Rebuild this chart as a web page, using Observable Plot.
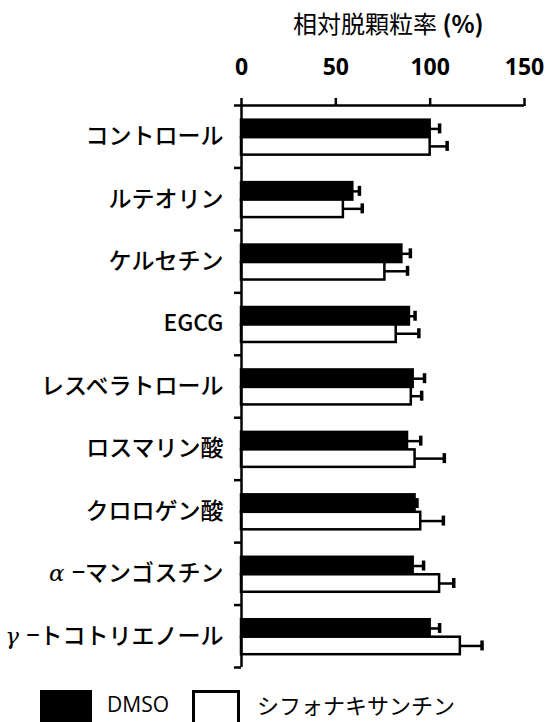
<!DOCTYPE html>
<html><head><meta charset="utf-8">
<script src="https://cdn.jsdelivr.net/npm/d3@7"></script>
<script src="https://cdn.jsdelivr.net/npm/@observablehq/plot@0.6"></script>
<style>
body{margin:0;background:#fff;font-family:"Noto Sans CJK JP",sans-serif;}
#wrap{position:relative;width:548px;height:722px;overflow:hidden;background:#fff;}
#title{position:absolute;left:293px;top:9px;font-size:24px;line-height:28px;white-space:nowrap;color:#000;}
#chart{position:absolute;left:0;top:44px;}
.sw{position:absolute;top:690px;height:40px;box-sizing:border-box;}
.lt{position:absolute;top:690px;font-size:22px;line-height:28px;white-space:nowrap;color:#000;}
</style></head>
<body><div id="wrap">
<div id="title">相対脱顆粒率 <b>(%)</b></div>
<div id="chart"></div>
<div class="sw" style="left:40px;width:52px;background:#000;"></div>
<div class="lt" style="left:107px;font-family:'Open Sans',sans-serif;font-size:21px;">DMSO</div>
<div class="sw" style="left:192px;width:48px;background:#fff;border:3px solid #000;"></div>
<div class="lt" style="left:257px;">シフォナキサンチン</div>
</div>
<script>
const categories = ["コントロール","ルテオリン","ケルセチン","EGCG","レスベラトロール","ロスマリン酸","クロロゲン酸","α−マンゴスチン","γ−トコトリエノール"];
const seriesNames = ["DMSO","シフォナキサンチン"];
const dmso    = [100, 59, 85, 89, 91, 88, 92, 91, 100];
const dmsoErr = [5, 3.5, 4.5, 3, 6, 7, 1, 5.5, 5];
const siph    = [100, 54, 76, 82, 90, 92, 95, 105, 116];
const siphErr = [9, 10, 12, 12, 5.5, 15.5, 12, 7.5, 11.5];
const xTicks = [0, 50, 100, 150];

const rows = [];
categories.forEach((c, i) => {
  rows.push({cat: c, series: seriesNames[0], value: dmso[i], hi: dmso[i] + dmsoErr[i], y1: i + 0.235, y2: i + 0.515});
  rows.push({cat: c, series: seriesNames[1], value: siph[i], hi: siph[i] + siphErr[i], y1: i + 0.515, y2: i + 0.795});
});
rows.forEach(d => d.yc = (d.y1 + d.y2) / 2);

const plot = Plot.plot({
  width: 548, height: 636,
  marginLeft: 241, marginRight: 24, marginTop: 61, marginBottom: 13,
  style: {fontFamily: "'Noto Sans CJK JP', sans-serif", background: "white", overflow: "visible"},
  x: {domain: [0, 150]},
  y: {domain: [0, categories.length], reverse: true},
  marks: [
    Plot.ruleY(rows, {y: "yc", x1: "value", x2: "hi", stroke: "black", strokeWidth: 2.5}),
    Plot.ruleX(rows, {x: "hi", y1: d => d.yc - 0.08, y2: d => d.yc + 0.08, stroke: "black", strokeWidth: 3.5}),
    Plot.rect(rows.filter(d => d.series === seriesNames[0]), {x1: 0, x2: "value", y1: "y1", y2: "y2", fill: "black", stroke: "black", strokeWidth: 2.5}),
    Plot.rect(rows.filter(d => d.series === seriesNames[1]), {x1: 0, x2: "value", y1: "y1", y2: "y2", fill: "white", stroke: "black", strokeWidth: 2.5}),
    Plot.axisX({anchor: "top", ticks: xTicks, tickSize: 8, tickPadding: 23, fontSize: 23, fontWeight: 700, fontFamily: "'Open Sans', sans-serif", strokeWidth: 2.5, label: null}),
    Plot.axisY({anchor: "left", ticks: d3.range(categories.length + 1), tickSize: 7, tickFormat: () => "", strokeWidth: 2.5, label: null}),
    Plot.ruleY([0], {x1: 0, x2: 150, stroke: "black", strokeWidth: 2.5}),
    Plot.ruleX([0], {y1: 0, y2: categories.length, stroke: "black", strokeWidth: 2.5}),
    Plot.text(categories, {x: 0, y: (d, i) => i + 0.5, text: d => d, textAnchor: "end", dx: -18, fontSize: 23, fontWeight: 500, fill: "black"})
  ]
});
document.getElementById("chart").appendChild(plot);

// italicize Greek prefixes
plot.querySelectorAll("text").forEach(t => {
  const s = t.textContent;
  if (/^[αγ]/.test(s)) {
    t.textContent = "";
    const g = document.createElementNS("http://www.w3.org/2000/svg", "tspan");
    g.setAttribute("font-style", "italic");
    g.setAttribute("font-weight", "400");
    g.setAttribute("font-family", "'DejaVu Serif', serif");
    g.textContent = s[0] + " ";
    const r = document.createElementNS("http://www.w3.org/2000/svg", "tspan");
    r.textContent = s.slice(1);
    t.appendChild(g); t.appendChild(r);
  }
});
</script>
</body></html>
